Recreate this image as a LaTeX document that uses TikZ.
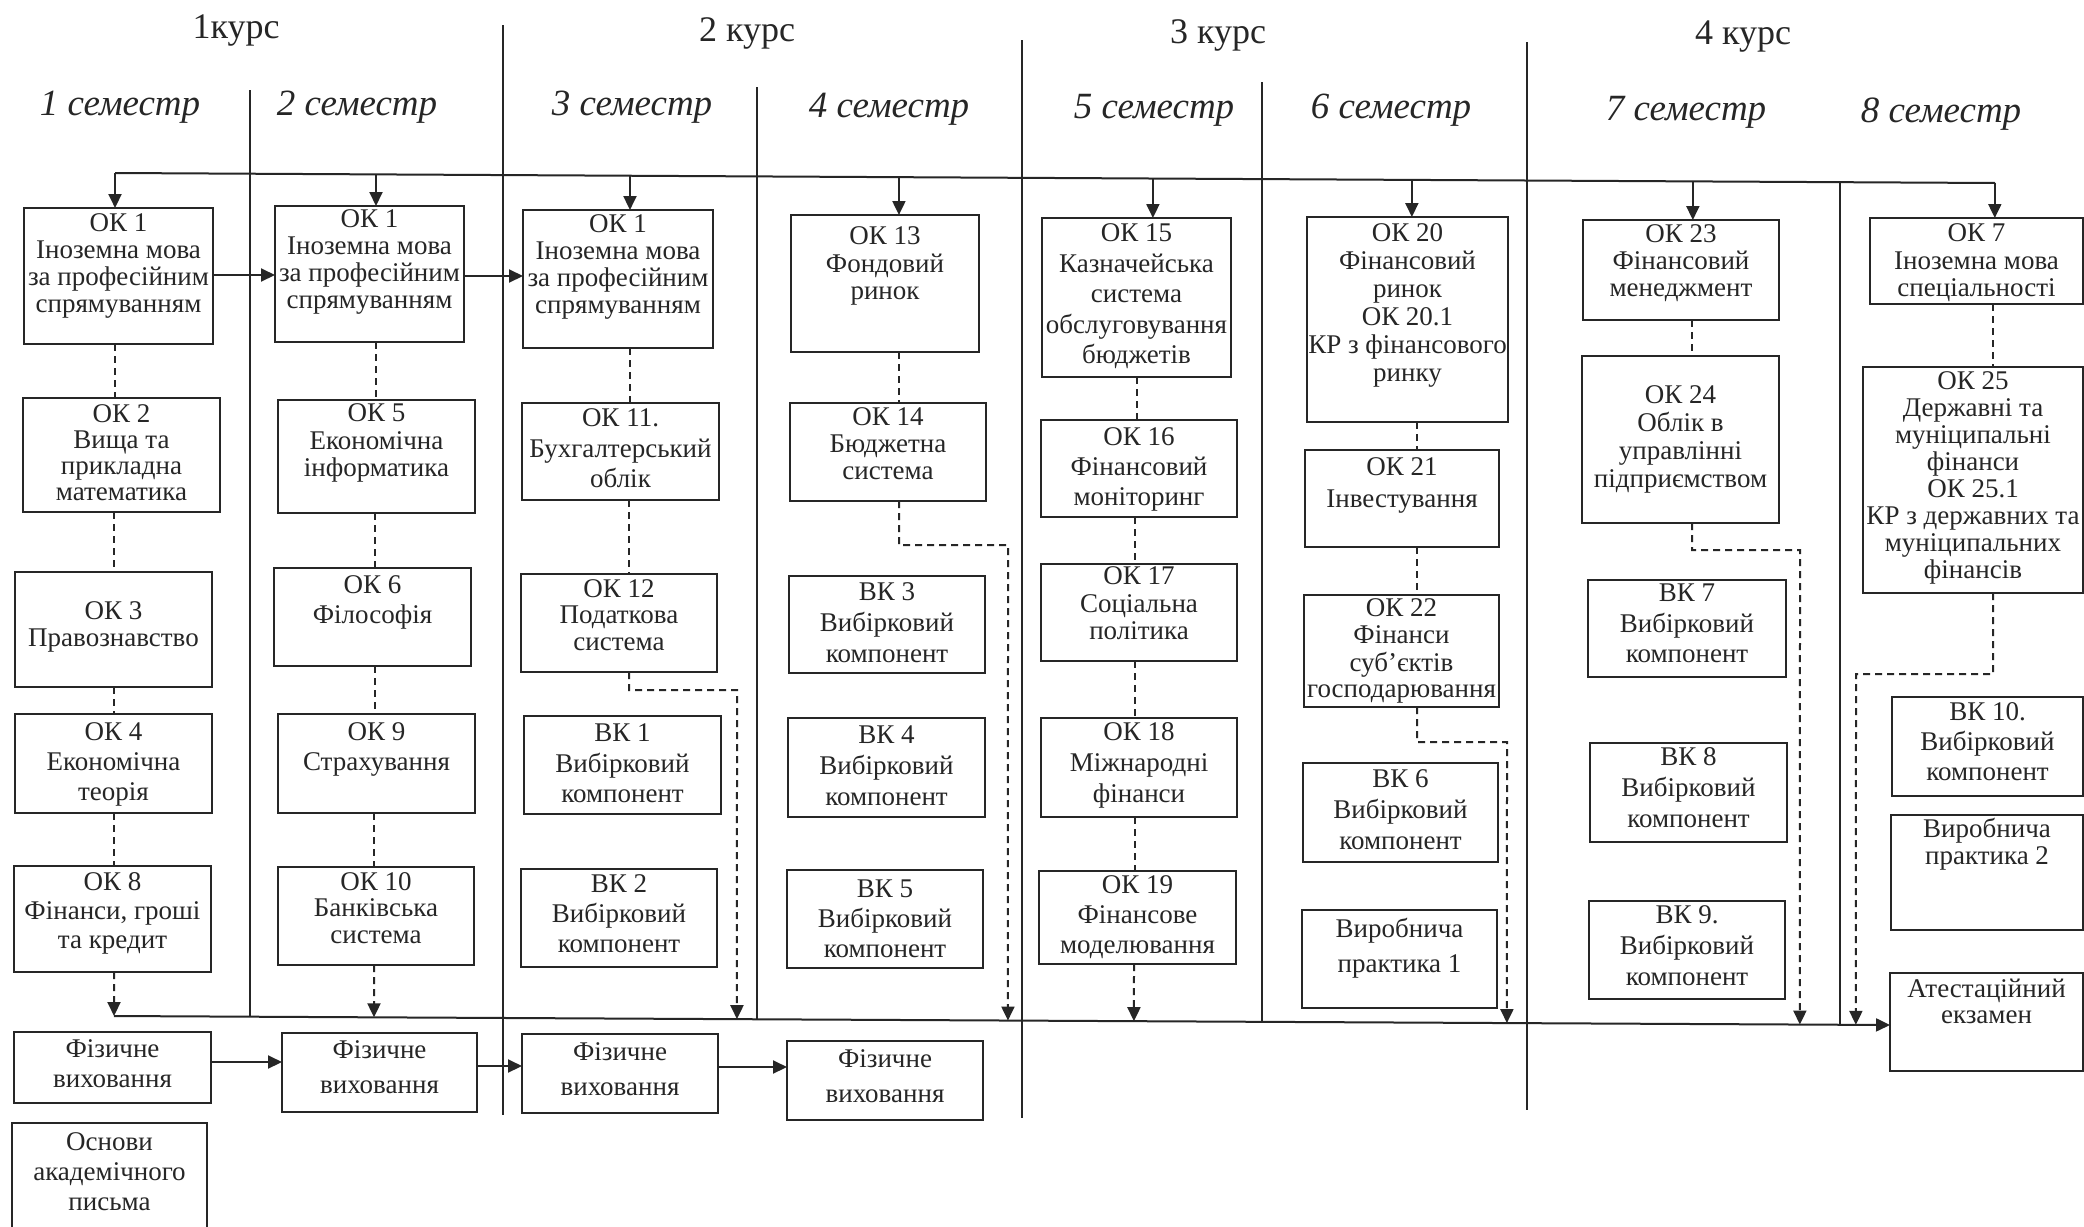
\documentclass[tikz,border=0pt]{standalone}
\usepackage{fontspec}
\setmainfont{Liberation Serif}
\usetikzlibrary{arrows.meta,calc}
\definecolor{ink}{HTML}{262626}
\newcommand\bx[8]{%
 \node[bxs, anchor=north west] (#1) at (#2,#3) {\parbox[c][\dimexpr #5pt-#3pt\relax][t]{\dimexpr #4pt-#2pt\relax}{\vspace*{#6pt}\centering\fontsize{27}{#7}\selectfont\begin{tabular}[t]{@{}c@{}}#8\end{tabular}\par}};}
\begin{document}
\begin{tikzpicture}[x=1pt,y=-1pt,
  bxs/.style={draw=ink, line width=2.4pt, inner sep=0pt, outer sep=0pt, text=ink},
  ln/.style={draw=ink, line width=2pt},
  arr/.style={draw=ink, line width=2pt, -{Triangle[length=14pt,width=13pt]}},
  darr/.style={arr, dash pattern=on 7pt off 5pt},
  dsh/.style={draw=ink, line width=2pt, dash pattern=on 7pt off 5pt},
  crs/.style={font=\fontsize{36}{36}\selectfont, text=ink, inner sep=0pt},
  sem/.style={font=\fontsize{37}{37}\selectfont\itshape, text=ink, inner sep=0pt}]
\useasboundingbox (0,0) rectangle (2084,1226);
\fill[white] (0,0) rectangle (2084,1226);

% headers
\node[crs, anchor=base] (c1) at (236,38) {1курс};
\node[crs, anchor=base] (c2) at (747,41) {2 курс};
\node[crs, anchor=base] (c3) at (1218,43) {3 курс};
\node[crs, anchor=base] (c4) at (1743,44) {4 курс};
\node[sem, anchor=base] (s1) at (120,115) {1 семестр};
\node[sem, anchor=base] (s2) at (357,115) {2 семестр};
\node[sem, anchor=base] (s3) at (632,115) {3 семестр};
\node[sem, anchor=base] (s4) at (889,117) {4 семестр};
\node[sem, anchor=base] (s5) at (1154,118) {5 семестр};
\node[sem, anchor=base] (s6) at (1391,118) {6 семестр};
\node[sem, anchor=base] (s7) at (1686,120) {7 семестр};
\node[sem, anchor=base] (s8) at (1941,122) {8 семестр};

% dividers
\draw[ln] (250,90) -- (250,1016);
\draw[ln] (503,25) -- (503,1115);
\draw[ln] (757,87) -- (757,1019);
\draw[ln] (1022,40) -- (1022,1118);
\draw[ln] (1262,82) -- (1262,1022);
\draw[ln] (1527,42) -- (1527,1110);
\draw[ln] (1840,182) -- (1840,1025);

% column 1
\bx{ok1a}{24}{208}{213}{344}{5}{27}{ОК 1\\Іноземна мова\\за професійним\\спрямуванням}
\bx{ok2}{23}{398}{220}{512}{5.8}{26}{ОК 2\\Вища та\\прикладна\\математика}
\bx{ok3}{15}{572}{212}{687}{29}{27}{ОК 3\\Правознавство}
\bx{ok4}{15}{714}{212}{813}{5}{30}{ОК 4\\Економічна\\теорія}
\bx{ok8}{14}{866}{211}{972}{3.7}{29}{ОК 8\\Фінанси, гроші\\та кредит}
\bx{fiz1}{14}{1032}{211}{1103}{4}{30}{Фізичне\\виховання}
\bx{osn}{12}{1123}{207}{1240}{6}{30}{Основи\\академічного\\письма}
% column 2
\bx{ok1b}{275}{206}{464}{342}{3}{27}{ОК 1\\Іноземна мова\\за професійним\\спрямуванням}
\bx{ok5}{278}{400}{475}{513}{2.7}{27.5}{ОК 5\\Економічна\\інформатика}
\bx{ok6}{274}{568}{471}{666}{4}{30}{ОК 6\\Філософія}
\bx{ok9}{278}{714}{475}{813}{5}{30}{ОК 9\\Страхування}
\bx{ok10}{278}{867}{474}{965}{4.5}{26.5}{ОК 10\\Банківська\\система}
\bx{fiz2}{282}{1033}{477}{1112}{0.5}{35}{Фізичне\\виховання}
% column 3
\bx{ok1c}{523}{210}{713}{348}{4}{27}{ОК 1\\Іноземна мова\\за професійним\\спрямуванням}
\bx{ok11}{522}{403}{719}{500}{2.6}{30.5}{ОК 11.\\Бухгалтерський\\облік}
\bx{ok12}{521}{574}{717}{672}{4.5}{26.5}{ОК 12\\Податкова\\система}
\bx{vk1}{524}{716}{721}{814}{4.6}{30.5}{ВК 1\\Вибірковий\\компонент}
\bx{vk2}{521}{869}{717}{967}{2}{30}{ВК 2\\Вибірковий\\компонент}
\bx{fiz3}{522}{1034}{718}{1113}{1.5}{35}{Фізичне\\виховання}
% column 4
\bx{ok13}{791}{215}{979}{352}{10.7}{27.5}{ОК 13\\Фондовий\\ринок}
\bx{ok14}{790}{403}{986}{501}{4}{27}{ОК 14\\Бюджетна\\система}
\bx{vk3}{789}{576}{985}{673}{2.3}{31}{ВК 3\\Вибірковий\\компонент}
\bx{vk4}{788}{718}{985}{817}{3.3}{31}{ВК 4\\Вибірковий\\компонент}
\bx{vk5}{787}{870}{983}{968}{6}{30}{ВК 5\\Вибірковий\\компонент}
\bx{fiz4}{787}{1041}{983}{1120}{1.5}{35}{Фізичне\\виховання}
% column 5
\bx{ok15}{1042}{218}{1231}{377}{2.5}{30.5}{ОК 15\\Казначейська\\система\\обслуговування\\бюджетів}
\bx{ok16}{1041}{420}{1237}{517}{4}{30}{ОК 16\\Фінансовий\\моніторинг}
\bx{ok17}{1041}{564}{1237}{661}{1.7}{27.5}{ОК 17\\Соціальна\\політика}
\bx{ok18}{1041}{718}{1237}{817}{0.3}{31}{ОК 18\\Міжнародні\\фінанси}
\bx{ok19}{1039}{871}{1236}{964}{1}{30}{ОК 19\\Фінансове\\моделювання}
% column 6
\bx{ok20}{1307}{217}{1508}{422}{4.4}{28}{ОК 20\\Фінансовий\\ринок\\ОК 20.1\\КР з фінансового\\ринку}
\bx{ok21}{1305}{450}{1499}{547}{2.6}{32}{ОК 21\\Інвестування}
\bx{ok22}{1304}{595}{1499}{707}{3.3}{26.7}{ОК 22\\Фінанси\\суб’єктів\\господарювання}
\bx{vk6}{1303}{763}{1498}{862}{2.3}{31}{ВК 6\\Вибірковий\\компонент}
\bx{vp1}{1302}{910}{1497}{1008}{2.5}{35}{Виробнича\\практика 1}
% column 7
\bx{ok23}{1583}{220}{1779}{320}{4}{27}{ОК 23\\Фінансовий\\менеджмент}
\bx{ok24}{1582}{356}{1779}{523}{27.4}{28}{ОК 24\\Облік в\\управлінні\\підприємством}
\bx{vk7}{1588}{580}{1786}{677}{0.6}{30.5}{ВК 7\\Вибірковий\\компонент}
\bx{vk8}{1590}{743}{1787}{842}{0.3}{31}{ВК 8\\Вибірковий\\компонент}
\bx{vk9}{1589}{901}{1785}{999}{0.3}{31}{ВК 9.\\Вибірковий\\компонент}
% column 8
\bx{ok7}{1870}{218}{2083}{304}{4.7}{27.5}{ОК 7\\Іноземна мова\\спеціальності}
\bx{ok25}{1863}{367}{2083}{593}{4}{27}{ОК 25\\Державні та\\муніципальні\\фінанси\\ОК 25.1\\КР з державних та\\муніципальних\\фінансів}
\bx{vk10}{1892}{697}{2083}{796}{2}{30}{ВК 10.\\Вибірковий\\компонент}
\bx{vp2}{1891}{815}{2083}{930}{3.5}{26.5}{Виробнича\\практика 2}
\bx{att}{1890}{973}{2083}{1071}{5.5}{26.5}{Атестаційний\\екзамен}

% top distribution line
\coordinate (TL) at (115,173);
\coordinate (TR) at (1995,183);
\draw[ln] (TL) -- (TR);
\foreach \n/\x in {ok1a/115, ok1b/376, ok1c/630, ok13/899, ok15/1153, ok20/1412, ok23/1693, ok7/1995} {
  \coordinate (top\n) at ($(TL)!(\x,178)!(TR)$);
  \draw[arr] (top\n) -- (top\n |- \n.north);
}

% bottom collecting line
\coordinate (BL) at (114,1016);
\coordinate (BR) at (att.west |- 0,1025);
\draw[arr] (BL) -- (BR);
\foreach \k/\x in {1/114, 2/374, 3/737, 4/1008, 5/1134, 6/1507, 7/1800, 8/1856} {
  \coordinate (bot\k) at ($(BL)!(\x,1020)!(BR)$);
}

% horizontal arrows
\draw[arr] (ok1a.east |- 0,275) -- (ok1b.west |- 0,275);
\draw[arr] (ok1b.east |- 0,276) -- (ok1c.west |- 0,276);
\draw[arr] (fiz1.east |- 0,1062) -- (fiz2.west |- 0,1062);
\draw[arr] (fiz2.east |- 0,1066) -- (fiz3.west |- 0,1066);
\draw[arr] (fiz3.east |- 0,1067) -- (fiz4.west |- 0,1067);

% dashed links column 1
\draw[dsh] (ok1a.south -| 115,0) -- (ok2.north -| 115,0);
\draw[dsh] (ok2.south -| 114,0) -- (ok3.north -| 114,0);
\draw[dsh] (ok3.south -| 114,0) -- (ok4.north -| 114,0);
\draw[dsh] (ok4.south -| 114,0) -- (ok8.north -| 114,0);
\draw[darr] (ok8.south -| 114,0) -- (bot1);
% column 2
\draw[dsh] (ok1b.south -| 376,0) -- (ok5.north -| 376,0);
\draw[dsh] (ok5.south -| 375,0) -- (ok6.north -| 375,0);
\draw[dsh] (ok6.south -| 375,0) -- (ok9.north -| 375,0);
\draw[dsh] (ok9.south -| 374,0) -- (ok10.north -| 374,0);
\draw[darr] (ok10.south -| 374,0) -- (bot2);
% column 3
\draw[dsh] (ok1c.south -| 630,0) -- (ok11.north -| 630,0);
\draw[dsh] (ok11.south -| 629,0) -- (ok12.north -| 629,0);
\draw[darr] (ok12.south -| 629,0) -- (629,690) -- (737,690) -- (bot3);
% column 4
\draw[dsh] (ok13.south -| 899,0) -- (ok14.north -| 899,0);
\draw[darr] (ok14.south -| 899,0) -- (899,545) -- (1008,545) -- (bot4);
% column 5
\draw[dsh] (ok15.south -| 1137,0) -- (ok16.north -| 1137,0);
\draw[dsh] (ok16.south -| 1135,0) -- (ok17.north -| 1135,0);
\draw[dsh] (ok17.south -| 1135,0) -- (ok18.north -| 1135,0);
\draw[dsh] (ok18.south -| 1135,0) -- (ok19.north -| 1135,0);
\draw[darr] (ok19.south -| 1134,0) -- (bot5);
% column 6
\draw[dsh] (ok20.south -| 1417,0) -- (ok21.north -| 1417,0);
\draw[dsh] (ok21.south -| 1417,0) -- (ok22.north -| 1417,0);
\draw[darr] (ok22.south -| 1417,0) -- (1417,742) -- (1507,742) -- (bot6);
% column 7
\draw[dsh] (ok23.south -| 1692,0) -- (ok24.north -| 1692,0);
\draw[darr] (ok24.south -| 1692,0) -- (1692,550) -- (1800,550) -- (bot7);
% column 8
\draw[dsh] (ok7.south -| 1993,0) -- (ok25.north -| 1993,0);
\draw[darr] (ok25.south -| 1993,0) -- (1993,674) -- (1856,674) -- (bot8);
\end{tikzpicture}
\end{document}
